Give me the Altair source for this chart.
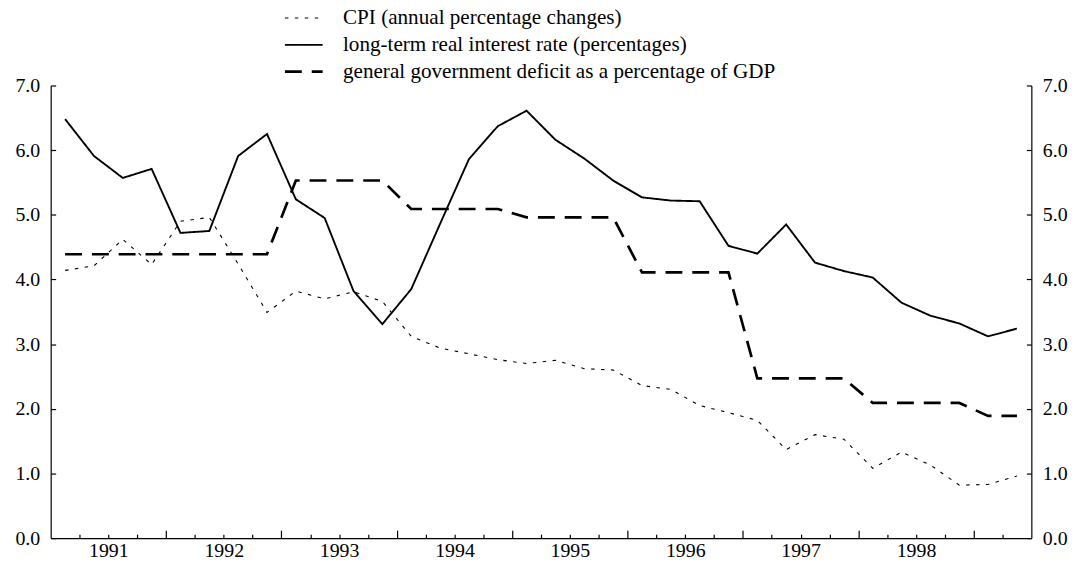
import altair as alt
import pandas as pd

# ---- data (quarterly, 1991Q1 .. 1999Q2) ----
series_names = [
    "CPI (annual percentage changes)",
    "long-term real interest rate (percentages)",
    "general government deficit as a percentage of GDP",
]

cpi = [4.14, 4.21, 4.62, 4.23, 4.90, 4.96, 4.24, 3.49, 3.82, 3.70, 3.81, 3.66,
       3.12, 2.94, 2.85, 2.76, 2.70, 2.75, 2.62, 2.60, 2.36, 2.30, 2.05, 1.94,
       1.82, 1.37, 1.60, 1.53, 1.08, 1.33, 1.13, 0.82, 0.83, 0.96]

real_rate = [6.48, 5.91, 5.57, 5.71, 4.72, 4.75, 5.91, 6.25, 5.24, 4.95, 3.82, 3.31,
             3.85, 4.86, 5.86, 6.37, 6.61, 6.16, 5.87, 5.53, 5.27, 5.22, 5.21, 4.52,
             4.40, 4.85, 4.26, 4.13, 4.03, 3.64, 3.44, 3.32, 3.12, 3.24]

deficit = [4.39, 4.39, 4.39, 4.39, 4.39, 4.39, 4.39, 4.39, 5.53, 5.53, 5.53, 5.53,
           5.09, 5.09, 5.09, 5.09, 4.96, 4.96, 4.96, 4.96, 4.11, 4.11, 4.11, 4.11,
           2.47, 2.47, 2.47, 2.47, 2.09, 2.09, 2.09, 2.09, 1.89, 1.89]

years = [1991, 1992, 1993, 1994, 1995, 1996, 1997, 1998]
y_ticks = [0, 1, 2, 3, 4, 5, 6, 7]

first_year = 1991
t = [first_year + (i + 0.5) / 4 for i in range(len(cpi))]

rows = []
for name, vals in zip(series_names, [cpi, real_rate, deficit]):
    for ti, v in zip(t, vals):
        rows.append({"t": ti, "value": v, "series": name})
df = pd.DataFrame(rows)

# ---- layout ----
W, H = 988, 456
FONT = "Liberation Serif"

xscale = alt.Scale(domain=[1991, 1999.5], nice=False, zero=False)
yscale = alt.Scale(domain=[0, 7], nice=False)

year_mid = [y + 0.5 for y in years]
quarter_ticks = [first_year + k / 4 for k in range(1, 34) if k % 4]
year_ticks = [float(y + 1) for y in years]

base_axis = dict(title=None, grid=False, domainColor="black", tickColor="black",
                 labelColor="black", labelFont=FONT, labelFontSize=20)

legend = alt.Legend(
    title=None, orient="none", legendX=234.5, legendY=-81.3,
    symbolType="stroke", symbolSize=1444, symbolStrokeColor="black",
    labelFont=FONT, labelFontSize=21.3, labelColor="black", labelOffset=19,
    clipHeight=26.7, rowPadding=0, padding=0, labelLimit=800,
)

lines = alt.Chart(df).mark_line(color="black").encode(
    x=alt.X("t:Q", scale=xscale,
            axis=alt.Axis(orient="bottom", values=year_mid, ticks=False,
                          labelExpr="floor(datum.value)", labelPadding=3,
                          domainWidth=1.2, labelFlush=False, **base_axis)),
    y=alt.Y("value:Q", scale=yscale,
            axis=alt.Axis(orient="left", values=y_ticks, format=".1f", ticks=False,
                          labelPadding=11, domainWidth=1.2, labelFlush=False,
                          **base_axis)),
    strokeDash=alt.StrokeDash("series:N",
                              scale=alt.Scale(domain=series_names,
                                              range=[[3.5, 6.5], [1, 0], [17, 10]]),
                              legend=legend),
    strokeWidth=alt.StrokeWidth("series:N",
                                scale=alt.Scale(domain=series_names, range=[1.1, 2.7, 3.2]),
                                legend=legend),
)

ghost = alt.Chart(df).mark_point(opacity=0, size=1)

# inward quarter ticks on x, inward ticks on left y
minor = ghost.encode(
    x=alt.X("t:Q", scale=xscale,
            axis=alt.Axis(orient="top", offset=-H, values=quarter_ticks, labels=False,
                          domain=False, tickSize=4, tickWidth=1.2, **base_axis)),
    y=alt.Y("value:Q", scale=yscale,
            axis=alt.Axis(orient="right", offset=-W, values=y_ticks, labels=False,
                          domain=False, tickSize=5, tickWidth=1.2, **base_axis)),
)

# inward year ticks on x, right y axis with labels
major = ghost.encode(
    x=alt.X("t:Q", scale=xscale,
            axis=alt.Axis(orient="top", offset=-H, values=year_ticks, labels=False,
                          domain=False, tickSize=8, tickWidth=1.2, **base_axis)),
    y=alt.Y("value:Q", scale=yscale,
            axis=alt.Axis(orient="right", values=y_ticks, format=".1f", ticks=False,
                          labelPadding=11, domainWidth=1.2, labelFlush=False,
                          **base_axis)),
)

# inward ticks on right y
right_ticks = ghost.encode(
    x=alt.X("t:Q", scale=xscale, axis=None),
    y=alt.Y("value:Q", scale=yscale,
            axis=alt.Axis(orient="left", offset=-W, values=y_ticks, labels=False,
                          domain=False, tickSize=5, tickWidth=1.2, **base_axis)),
)

chart = (
    alt.layer(lines, minor, major, right_ticks)
    .resolve_axis(x="independent", y="independent")
    .properties(
        width=W, height=H,
        autosize=alt.AutoSizeParams(type="none"),
        padding={"left": 43, "top": 76, "right": 47, "bottom": 20},
    )
    .configure(font=FONT)
    .configure_view(stroke=None)
)

chart.save("out.html", embed_options={"renderer": "svg", "actions": False})
